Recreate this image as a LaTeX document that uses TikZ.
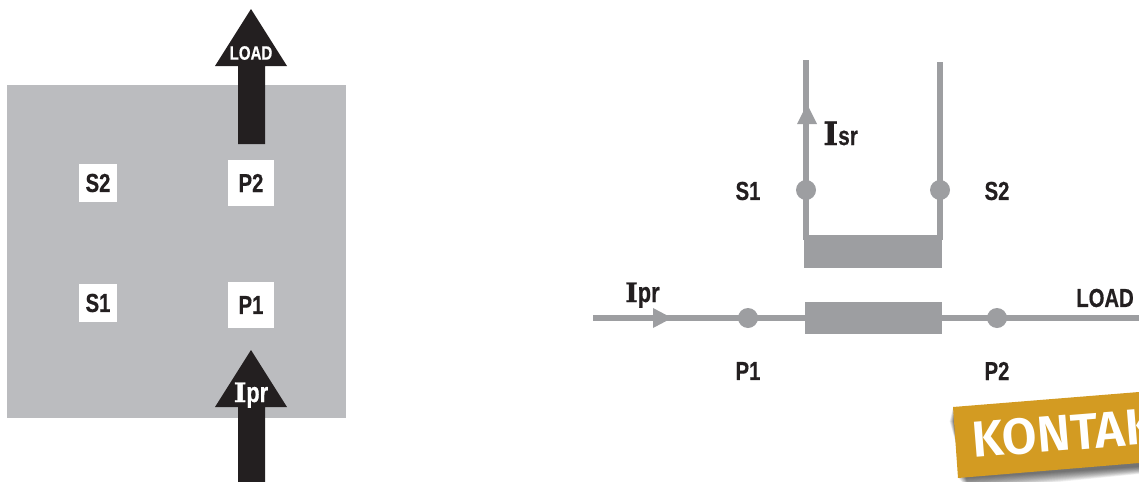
\documentclass[tikz,border=0pt]{standalone}
\usepackage{fontspec}
\setmainfont{Liberation Sans}
\newfontfamily\condb[FakeStretch=0.78,FakeBold=0.5]{Liberation Sans Bold}
\newfontfamily\slabb[FakeBold=1.2]{DejaVu Serif Bold}
\newfontfamily\kontakt{Fira Sans SemiBold}
\definecolor{panel}{HTML}{BBBCBF}
\definecolor{wire}{HTML}{9D9EA1}
\definecolor{ink}{HTML}{231F20}
\definecolor{badge}{HTML}{D39B22}
\newcommand{\Cur}[1]{{\slabb\fontsize{20}{20}\selectfont I}{\condb\fontsize{21}{21}\selectfont #1}}
\tikzset{
  x=0.75pt,y=-0.75pt,
  lbl/.style={font=\condb\fontsize{19.5}{19.5}\selectfont,text=ink,inner sep=0pt},
  wbox/.style={fill=white,inner sep=0pt,font=\condb\fontsize{19.5}{19.5}\selectfont,text=ink,anchor=center},
  bigarrow/.style={fill=ink,draw=none},
  wireline/.style={draw=wire,line width=3.8pt},
  dot/.style={circle,fill=wire,minimum size=15pt,inner sep=0pt},
  core/.style={fill=wire,draw=none,inner sep=0pt},
  tipfill/.style={fill=wire,draw=none}
}
\begin{document}
\begin{tikzpicture}
\useasboundingbox (0,0) rectangle (1139,482);
\clip (0,0) rectangle (1139,482);
% panel
\fill[panel] (7,85) rectangle (346,418);
% arrows
\fill[bigarrow] (238,144) -- (238,66) -- (215,66) -- (251,9) -- (287,66) -- (265,66) -- (265,144) -- cycle;
\fill[bigarrow] (238,482) -- (238,407) -- (215,407) -- (251,350) -- (287,407) -- (265,407) -- (265,482) -- cycle;
\node[text=white,inner sep=0pt,font=\condb\fontsize{14.5}{14.5}\selectfont] (load1) at (251,53) {LOAD};
\node[text=white,inner sep=0pt,anchor=base] (ipr1) at (251,402) {\Cur{pr}};
% terminals
\node[wbox,minimum width=28.5pt,minimum height=28.5pt] (s2a) at (98,183) {S2};
\node[wbox,minimum width=34.5pt,minimum height=34.5pt] (p2a) at (251,183) {P2};
\node[wbox,minimum width=28.5pt,minimum height=28.5pt] (s1a) at (98,303) {S1};
\node[wbox,minimum width=34.5pt,minimum height=34pt] (p1a) at (251,305) {P1};
% right schematic
\coordinate (tl) at (806,60);
\coordinate (tr) at (940,62);
\coordinate (bl) at (806,240);
\coordinate (br) at (940,240);
\coordinate (in) at (593,318);
\coordinate (out) at (1139,318);
\draw[wireline] (tl) -- (bl);
\draw[wireline] (tr) -- (br);
\draw[wireline] (in) -- (out);
\fill[core] (804,235) rectangle (942,268);
\fill[core] (805,302) rectangle (942,334);
\node[dot] (ds1) at (806,190) {};
\node[dot] (ds2) at (940,190) {};
\node[dot] (dp1) at (748,318) {};
\node[dot] (dp2) at (997,318) {};
\fill[tipfill] (807,104) -- (817,124) -- (797,124) -- cycle;
\fill[tipfill] (672,318) -- (653,308) -- (653,328) -- cycle;
\node[lbl] (ls1) at (748,191) {S1};
\node[lbl] (ls2) at (997,191) {S2};
\node[lbl] (lp1) at (748,371) {P1};
\node[lbl] (lp2) at (997,371) {P2};
\node[lbl,anchor=east] (lload) at (1134,298) {LOAD};
\node[lbl,anchor=base west,text=ink] (lipr) at (625,302) {\Cur{pr}};
\node[lbl,anchor=base west,text=ink] (lisr) at (823,145) {{\slabb\fontsize{24}{24}\selectfont I}{\condb\fontsize{20}{20}\selectfont sr}};
% badge shadow
\foreach \o in {1,...,14}{
  \fill[black,opacity=0.055] (953-\o/4,407+\o) -- (1159,392+\o) -- (1159,463+\o/2+2) -- (958+\o/1.2,478+\o/1.1) -- cycle;
}
\fill[badge] (953,407) -- (1139,392) -- (1139,463) -- (958,478) -- cycle;
\node[rotate=4.6,anchor=base west,text=white,inner sep=0pt,font=\kontakt\fontsize{38}{38}\selectfont] (kont) at (973,458) {KONTAKT};
\end{tikzpicture}
\end{document}
